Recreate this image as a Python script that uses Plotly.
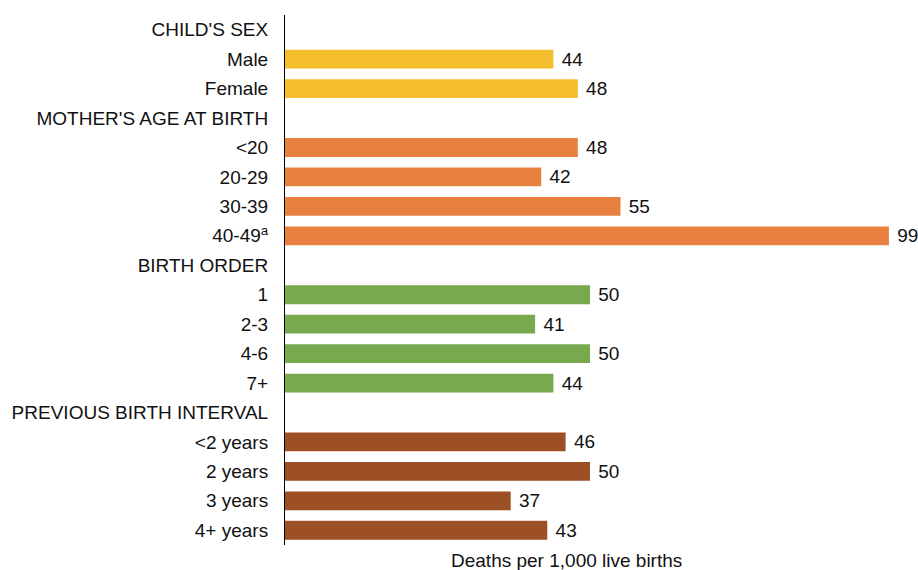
import plotly.graph_objects as go

categories = ["CHILD'S SEX", "Male", "Female",
              "MOTHER'S AGE AT BIRTH", "<20", "20-29", "30-39", "40-49<sup>a</sup>",
              "BIRTH ORDER", "1", "2-3", "4-6", "7+",
              "PREVIOUS BIRTH INTERVAL", "<2 years", "2 years", "3 years", "4+ years"]
values = [None, 44, 48,
          None, 48, 42, 55, 99,
          None, 50, 41, 50, 44,
          None, 46, 50, 37, 43]
groups = ["sex", "sex", "sex",
          "age", "age", "age", "age", "age",
          "order", "order", "order", "order", "order",
          "interval", "interval", "interval", "interval", "interval"]
group_colors = {"sex": "#F4BD2B", "age": "#E8803F", "order": "#78A94E", "interval": "#9D4F26"}
axis_title = "Deaths per 1,000 live births"

colors = [group_colors[g] for g in groups]
texts = [None if v is None else " " + str(v) for v in values]

fig = go.Figure(go.Bar(
    y=categories, x=values, orientation="h",
    marker=dict(color=colors, line=dict(width=0)),
    text=texts, textposition="outside", cliponaxis=False, constraintext="none",
    textfont=dict(size=19, color="#111111"),
))

fig.update_layout(
    width=918, height=570,
    margin=dict(l=285, r=0, t=15, b=25),
    paper_bgcolor="white", plot_bgcolor="white",
    font=dict(family="Liberation Sans, Arial, sans-serif", size=19, color="#111111"),
    bargap=0.36, showlegend=False,
    xaxis=dict(range=[0, 633 / 6.1], showticklabels=False, showgrid=False,
               zeroline=False, showline=False, ticks=""),
    yaxis=dict(categoryorder="array", categoryarray=categories, autorange="reversed",
               showline=True, linecolor="#000000", linewidth=1, showgrid=False,
               ticks="", ticklabelstandoff=12, automargin=False),
    annotations=[dict(text=axis_title, xref="paper", yref="paper", x=0.444, y=0,
                      yshift=-15, xanchor="center", yanchor="middle", showarrow=False,
                      font=dict(size=19))],
)

# remove the browser's default body margin so the 918x570 figure fills the window
fig.write_html("out.html", config={"displayModeBar": False},
               post_script="document.body.style.margin='0';")
